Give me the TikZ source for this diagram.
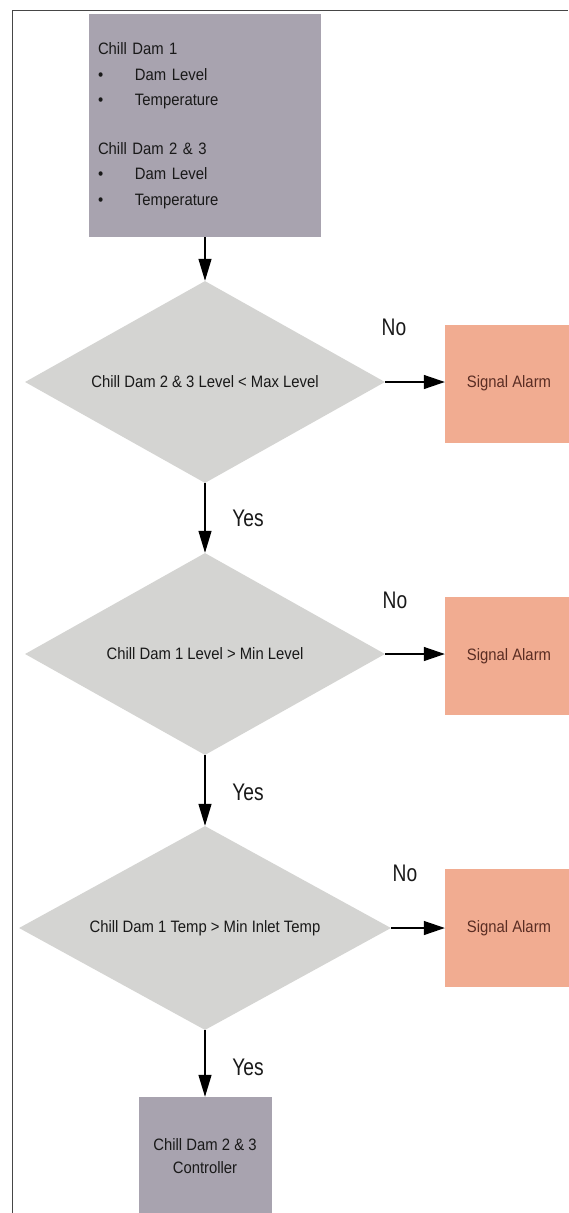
\documentclass[tikz,border=0pt]{standalone}
\usepackage{fontspec}
\setmainfont{Liberation Sans}
\newfontfamily\boxfont{Liberation Sans}[FakeStretch=0.9]
\newfontfamily\labelfont{Liberation Sans}[FakeStretch=0.8]
\usetikzlibrary{shapes.geometric,arrows.meta}
\definecolor{inputgrey}{RGB}{168,163,175}
\definecolor{decisiongrey}{RGB}{212,212,210}
\definecolor{alarmsalmon}{RGB}{241,172,145}
\definecolor{alarmtext}{RGB}{90,45,35}
\definecolor{framegrey}{RGB}{70,70,70}
\tikzset{
  inputbox/.style={rectangle, fill=inputgrey, draw=none, inner sep=0pt,
    font=\boxfont\fontsize{16.5}{25.5}\selectfont, text=black!90},
  decision/.style={diamond, fill=decisiongrey, draw=none, inner sep=0pt,
    aspect=1.78, font=\boxfont\fontsize{16.5}{20}\selectfont, text=black!90},
  alarmbox/.style={rectangle, fill=alarmsalmon, draw=none, inner sep=0pt,
    minimum width=128pt, minimum height=118pt,
    font=\boxfont\fontsize{16.5}{20}\selectfont, text=alarmtext},
  flowlabel/.style={font=\labelfont\fontsize{24}{24}\selectfont, text=black!90, inner sep=0pt},
  flowdown/.style={line width=1.3pt, -{Triangle[length=22pt,width=13pt]}},
  flowright/.style={line width=1.3pt, -{Triangle[length=21pt,width=14pt]}}
}
\newcommand{\bulletitem}[1]{\makebox[37pt][l]{\textbullet}#1}
\begin{document}
\begin{tikzpicture}[x=1pt,y=-1pt]
\useasboundingbox (0,0) rectangle (568,1213);

% outer frame (top and left edges)
\draw[framegrey, line width=1pt] (12,1213) -- (12,10) -- (568,10);

% inputs
\node[inputbox, minimum width=232pt, minimum height=223pt,
      text width=214pt, align=left] (inputs) at (205,125.5)
  {Chill Dam 1\\
   \bulletitem{Dam Level}\\
   \bulletitem{Temperature}\\[23pt]
   Chill Dam 2 \& 3\\
   \bulletitem{Dam Level}\\
   \bulletitem{Temperature}};

% decisions
\node[decision, minimum width=360pt, minimum height=202pt] (d1) at (205,382)
  {Chill Dam 2 \& 3 Level < Max Level};
\node[decision, minimum width=360pt, minimum height=202pt] (d2) at (205,654)
  {Chill Dam 1 Level > Min Level};
\node[decision, minimum width=372pt, minimum height=204pt] (d3) at (205,928)
  {Chill Dam 1 Temp > Min Inlet Temp};

% alarms
\node[alarmbox] (a1) at (509,383.5) {Signal Alarm};
\node[alarmbox] (a2) at (509,656) {Signal Alarm};
\node[alarmbox] (a3) at (509,928) {Signal Alarm};

% controller
\node[inputbox, minimum width=133pt, minimum height=118pt, align=center,
      font=\boxfont\fontsize{16.5}{23}\selectfont] (ctrl) at (205,1156)
  {Chill Dam 2 \& 3\\Controller};

% connectors
\draw[flowdown] (inputs.south) -- (d1.north);
\draw[flowdown] (d1.south) -- (d2.north);
\draw[flowdown] (d2.south) -- (d3.north);
\draw[flowdown] (d3.south) -- (ctrl.north);
\draw[flowright] (d1.east) -- (a1.west |- d1.east);
\draw[flowright] (d2.east) -- (a2.west |- d2.east);
\draw[flowright] (d3.east) -- (a3.west |- d3.east);

% branch labels
\node[flowlabel] (no1) at (394,327) {No};
\node[flowlabel] (no2) at (395,600) {No};
\node[flowlabel] (no3) at (405,873) {No};
\node[flowlabel] (yes1) at (248,518) {Yes};
\node[flowlabel] (yes2) at (248,792) {Yes};
\node[flowlabel] (yes3) at (248,1067) {Yes};
\end{tikzpicture}
\end{document}
